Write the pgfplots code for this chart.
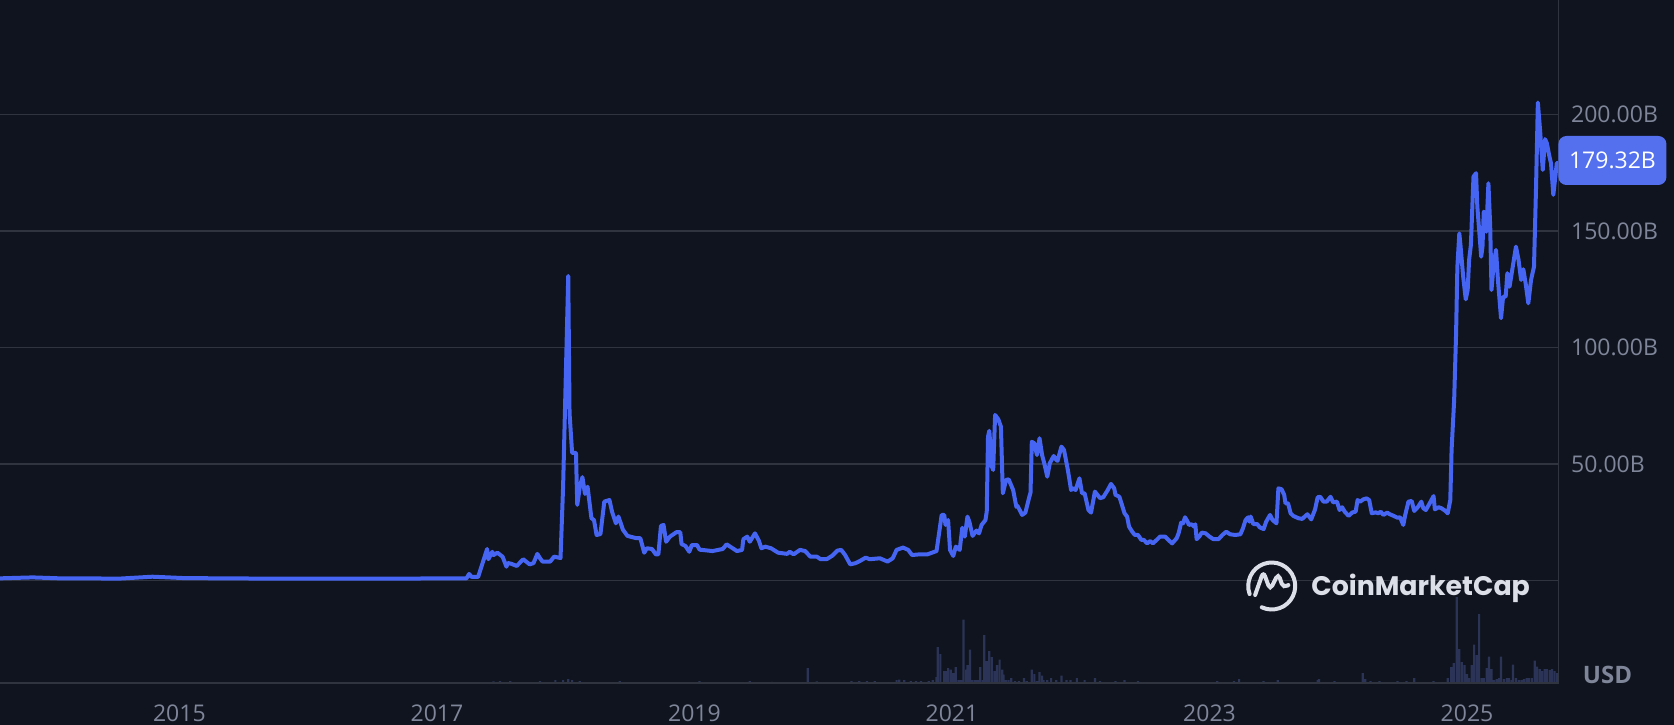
\documentclass[border=0pt]{standalone}
\usepackage{pgfplots}
\pgfplotsset{compat=1.18}
\usepackage{fontspec}
\setmainfont{Open Sans}
\newfontfamily\cmcfont{Poppins}

\definecolor{bg}{HTML}{10141F}
\definecolor{gridc}{HTML}{30343F}
\definecolor{linec}{HTML}{4565F2}
\definecolor{volc}{HTML}{2B3456}
\definecolor{labc}{HTML}{80869A}
\definecolor{tagc}{HTML}{5470EE}
\definecolor{markc}{HTML}{DCDFE8}

% market cap, billions USD
\pgfplotstableread{
year mcap
2013.607 1.0
2013.86 1.4
2014.07 1.0
2014.54 0.9
2014.79 1.7
2015.04 1.1
2015.63 0.9
2016.17 0.9
2016.71 0.9
2017.23 1.0
2017.25 2.9
2017.27 1.6
2017.32 1.6
2017.33 3.3
2017.39 13.6
2017.40 9.2
2017.43 12.4
2017.44 11.0
2017.47 12.0
2017.51 10.3
2017.54 6.0
2017.55 7.6
2017.58 7.2
2017.62 6.3
2017.67 9.2
2017.72 7.0
2017.75 7.5
2017.78 11.5
2017.80 9.7
2017.82 8.2
2017.88 8.2
2017.91 10.3
2017.96 9.7
2017.98 40.3
2018.02 130.7
2018.03 71.9
2018.05 54.8
2018.08 54.8
2018.09 32.5
2018.11 40.3
2018.13 44.4
2018.15 37.2
2018.17 40.3
2018.20 26.8
2018.22 26.0
2018.24 19.6
2018.27 20.0
2018.30 33.9
2018.34 34.6
2018.36 29.6
2018.39 24.6
2018.41 27.5
2018.445 21.8
2018.48 19.2
2018.55 18.2
2018.58 18.2
2018.61 12.0
2018.63 13.9
2018.67 13.6
2018.70 11.3
2018.72 11.3
2018.74 23.5
2018.76 23.9
2018.78 16.7
2018.81 18.9
2018.86 20.8
2018.89 20.8
2018.90 15.7
2018.93 14.9
2018.96 12.4
2018.98 15.3
2019.02 15.3
2019.04 13.3
2019.14 12.7
2019.22 13.6
2019.25 15.6
2019.33 12.7
2019.37 13.2
2019.38 17.8
2019.41 18.9
2019.43 16.7
2019.47 20.3
2019.50 17.2
2019.52 13.9
2019.55 14.6
2019.595 13.9
2019.65 12.0
2019.72 11.5
2019.74 12.4
2019.77 11.3
2019.82 13.2
2019.86 12.7
2019.90 10.3
2019.95 10.3
2019.98 9.2
2020.03 9.3
2020.07 10.7
2020.11 12.9
2020.14 13.2
2020.17 11.0
2020.21 7.0
2020.25 7.5
2020.29 8.6
2020.33 9.9
2020.36 9.2
2020.44 9.6
2020.50 8.2
2020.54 9.6
2020.57 13.2
2020.62 14.2
2020.66 13.2
2020.69 11.0
2020.75 11.3
2020.81 11.3
2020.88 12.7
2020.92 28.2
2020.94 28.2
2020.95 23.9
2020.97 26.0
2020.985 13.2
2021.01 10.6
2021.03 14.6
2021.06 13.2
2021.08 22.7
2021.10 18.9
2021.12 27.5
2021.135 25.3
2021.16 19.2
2021.19 21.5
2021.21 20.3
2021.23 23.9
2021.26 26.0
2021.27 29.6
2021.28 61.8
2021.29 64.3
2021.31 48.9
2021.32 47.5
2021.335 71.1
2021.36 69.2
2021.38 66.1
2021.395 37.5
2021.42 43.2
2021.44 43.5
2021.475 38.9
2021.50 31.7
2021.51 32.0
2021.545 28.2
2021.57 29.2
2021.60 35.8
2021.61 37.8
2021.62 59.6
2021.64 58.9
2021.66 53.9
2021.68 61.1
2021.70 53.9
2021.72 49.6
2021.74 44.6
2021.76 50.4
2021.79 53.5
2021.81 51.8
2021.82 51.4
2021.85 57.5
2021.87 56.1
2021.90 47.5
2021.925 38.9
2021.94 39.6
2021.96 38.9
2021.99 43.9
2022.01 37.5
2022.03 37.5
2022.06 30.3
2022.08 29.2
2022.11 38.2
2022.13 36.8
2022.15 35.4
2022.175 35.8
2022.21 38.9
2022.235 41.5
2022.26 39.6
2022.27 36.8
2022.30 36.0
2022.32 32.5
2022.34 28.9
2022.36 27.5
2022.375 23.2
2022.40 21.0
2022.42 19.6
2022.445 19.6
2022.47 17.5
2022.49 17.5
2022.515 16.0
2022.54 17.0
2022.56 16.0
2022.59 17.5
2022.616 18.9
2022.655 18.9
2022.68 17.5
2022.71 16.0
2022.745 18.2
2022.76 20.3
2022.78 24.9
2022.795 24.6
2022.81 27.2
2022.83 25.3
2022.84 23.9
2022.86 24.2
2022.88 23.2
2022.89 24.2
2022.90 17.8
2022.92 18.9
2022.94 20.6
2022.97 20.3
2023.00 18.9
2023.03 17.8
2023.07 17.8
2023.10 19.6
2023.13 21.0
2023.16 19.9
2023.20 19.6
2023.24 19.9
2023.26 22.5
2023.28 26.0
2023.30 27.2
2023.31 25.3
2023.32 27.5
2023.34 24.3
2023.37 24.3
2023.39 22.9
2023.42 22.1
2023.44 25.3
2023.47 28.2
2023.49 26.0
2023.52 24.6
2023.535 39.6
2023.56 39.2
2023.58 36.8
2023.59 33.2
2023.61 33.2
2023.63 28.9
2023.65 27.8
2023.69 26.8
2023.72 26.5
2023.76 28.5
2023.79 26.3
2023.82 30.6
2023.84 35.8
2023.86 36.0
2023.885 33.9
2023.91 33.9
2023.94 36.0
2023.96 33.6
2023.99 33.9
2024.01 30.3
2024.03 31.5
2024.05 29.6
2024.08 27.8
2024.11 29.3
2024.135 29.6
2024.15 34.6
2024.17 33.9
2024.195 34.9
2024.22 35.3
2024.24 34.6
2024.26 28.9
2024.29 29.3
2024.31 28.9
2024.33 29.6
2024.35 28.2
2024.38 29.2
2024.40 28.5
2024.43 27.8
2024.46 27.0
2024.48 27.2
2024.505 23.9
2024.52 28.2
2024.545 33.9
2024.57 34.2
2024.59 29.9
2024.62 31.7
2024.645 33.9
2024.66 31.1
2024.68 30.3
2024.71 33.2
2024.74 36.3
2024.75 30.6
2024.78 31.5
2024.80 31.1
2024.83 30.0
2024.85 28.9
2024.87 34.6
2024.88 56.1
2024.90 77.5
2024.915 106.1
2024.925 134.7
2024.94 149.0
2024.95 143.3
2024.97 130.4
2024.99 120.7
2025.005 124.7
2025.016 137.6
2025.03 144.0
2025.05 173.3
2025.07 174.8
2025.08 160.4
2025.11 139.0
2025.12 143.3
2025.13 158.3
2025.14 157.6
2025.15 149.7
2025.166 170.5
2025.18 151.9
2025.19 124.7
2025.205 134.7
2025.225 141.9
2025.24 129.0
2025.264 112.6
2025.28 121.8
2025.30 121.8
2025.313 131.9
2025.33 126.1
2025.347 131.9
2025.38 143.3
2025.40 137.6
2025.42 129.0
2025.437 133.6
2025.455 127.6
2025.476 119.0
2025.497 129.0
2025.52 134.7
2025.536 169.0
2025.55 205.1
2025.567 193.4
2025.588 176.2
2025.606 189.4
2025.62 187.6
2025.64 181.9
2025.652 179.1
2025.67 165.5
2025.683 171.9
2025.697 179.1
2025.712 179.3
}\mcaptable

% volume, billions USD
\pgfplotstableread{
year vol
2017.44 0.8
2017.49 1.0
2017.57 1.0
2017.80 1.0
2017.92 1.5
2017.98 1.5
2018.02 2.0
2018.05 1.5
2018.11 1.0
2018.42 1.0
2019.04 1.0
2019.43 1.0
2019.60 0.6
2019.88 7.5
2019.95 0.8
2020.22 1.0
2020.28 1.0
2020.34 1.0
2020.40 1.0
2020.57 1.5
2020.59 1.7
2020.63 1.5
2020.68 1.0
2020.72 1.0
2020.76 1.0
2020.82 1.0
2020.85 1.5
2020.88 3.0
2020.89 17.9
2020.91 14.5
2020.94 5.9
2020.96 5.9
2020.97 7.5
2020.99 6.7
2021.01 5.0
2021.03 7.9
2021.05 1.5
2021.07 1.5
2021.09 31.7
2021.11 6.7
2021.12 8.9
2021.14 16.7
2021.16 1.5
2021.18 1.5
2021.20 1.5
2021.22 7.9
2021.24 1.5
2021.25 23.9
2021.27 10.9
2021.29 15.9
2021.31 12.9
2021.33 5.9
2021.35 8.9
2021.37 11.7
2021.39 6.7
2021.40 4.2
2021.42 1.5
2021.44 1.5
2021.46 2.5
2021.49 1.0
2021.52 1.0
2021.56 2.5
2021.58 1.0
2021.62 6.7
2021.64 4.5
2021.66 1.0
2021.68 5.5
2021.70 3.7
2021.71 1.5
2021.74 1.5
2021.77 2.5
2021.81 1.5
2021.85 3.7
2021.89 1.5
2021.92 1.5
2021.97 2.5
2022.03 1.5
2022.11 2.5
2022.15 1.0
2022.27 1.0
2022.34 1.5
2022.445 1.0
2023.06 1.0
2023.19 1.0
2023.23 2.0
2023.42 1.0
2023.53 1.5
2023.84 1.5
2023.85 2.0
2023.97 1.0
2024.19 5.0
2024.21 2.0
2024.25 1.0
2024.32 1.0
2024.46 1.0
2024.53 1.0
2024.59 2.5
2024.74 1.0
2024.85 2.5
2024.877 7.9
2024.897 9.9
2024.92 42.9
2024.94 17.0
2024.96 10.4
2024.98 9.0
2025.00 4.5
2025.016 2.5
2025.037 9.0
2025.055 19.2
2025.076 14.0
2025.094 34.5
2025.114 2.5
2025.13 2.5
2025.153 7.5
2025.17 13.2
2025.19 7.0
2025.21 1.5
2025.23 2.0
2025.25 2.5
2025.264 13.2
2025.287 2.0
2025.31 2.5
2025.326 2.5
2025.347 1.5
2025.357 9.2
2025.38 2.5
2025.404 1.5
2025.425 1.5
2025.443 2.0
2025.464 2.5
2025.48 2.5
2025.503 2.5
2025.526 11.2
2025.544 8.2
2025.565 7.0
2025.583 6.0
2025.604 7.0
2025.62 7.0
2025.643 6.5
2025.66 7.0
2025.68 6.0
2025.70 5.0
}\voltable

\begin{document}
\begin{tikzpicture}
\useasboundingbox (0,0) rectangle (837pt,362pt);
\fill[bg] (-5pt,-5pt) rectangle (842pt,367pt);

% volume bars
\begin{axis}[
    at={(0pt,20.5pt)}, anchor=south west,
    scale only axis, width=779.35pt, height=341.5pt,
    xmin=2013.607, xmax=2025.712, ymin=0, ymax=341.5,
    hide axis, ybar, bar width=1.1pt,
]
\addplot[fill=volc, draw=none] table[x=year, y=vol] {\voltable};
\end{axis}

% market cap line
\begin{axis}[
    at={(0pt,20.5pt)}, anchor=south west,
    scale only axis, width=779.35pt, height=341.5pt,
    xmin=2013.607, xmax=2025.712, ymin=-43.9, ymax=249.1,
    clip=false,
    axis line style={draw=none},
    major tick length=0pt,
    ymajorgrids, grid style={gridc, line width=0.75pt},
    ytick={0,50,100,150,200},
    yticklabels={{},50.00B,100.00B,150.00B,200.00B},
    yticklabel pos=right,
    yticklabel style={anchor=west, inner sep=0pt, xshift=6pt},
    xtick={2015,2017,2019,2021,2023,2025},
    xticklabels={2015,2017,2019,2021,2023,2025},
    xticklabel style={anchor=center, inner sep=0pt, yshift=-15pt},
    ticklabel style={font=\fontsize{11.5}{13}\selectfont, text=labc},
]
\addplot[linec, line width=2pt, line join=round] table[x=year, y=mcap] {\mcaptable};
\draw[gridc, line width=0.75pt] (rel axis cs:1,1) -- (rel axis cs:1,0) -- (rel axis cs:0,0);
\end{axis}

% last value tag
\node[fill=tagc, rounded corners=4pt, anchor=west, minimum height=24.5pt,
      minimum width=54pt, inner sep=0pt, text=white,
      font=\fontsize{11.5}{13}\selectfont] at (779pt,281.75pt) {179.32B};

% currency
\node[text=labc, font=\fontsize{12}{14}\selectfont\bfseries] at (803.75pt,24.5pt) {USD};

% watermark
\begin{scope}[shift={(635.85pt,69pt)}, markc, line width=2pt, line cap=round]
\draw (245:11.75pt) arc[start angle=245, end angle=560, radius=11.75pt];
\draw[rounded corners=2.5pt] (-8.3pt,-4.5pt) -- (-4.2pt,7.2pt) -- (-0.8pt,-2pt)
      -- (3.3pt,6.3pt) -- (5.8pt,-1.2pt) -- (8.3pt,0.5pt);
\end{scope}
\node[anchor=base west, inner sep=0pt, text=markc,
      font=\cmcfont\fontsize{13.4}{15}\selectfont\bfseries] at (655.5pt,64.5pt) {CoinMarketCap};
\end{tikzpicture}
\end{document}
